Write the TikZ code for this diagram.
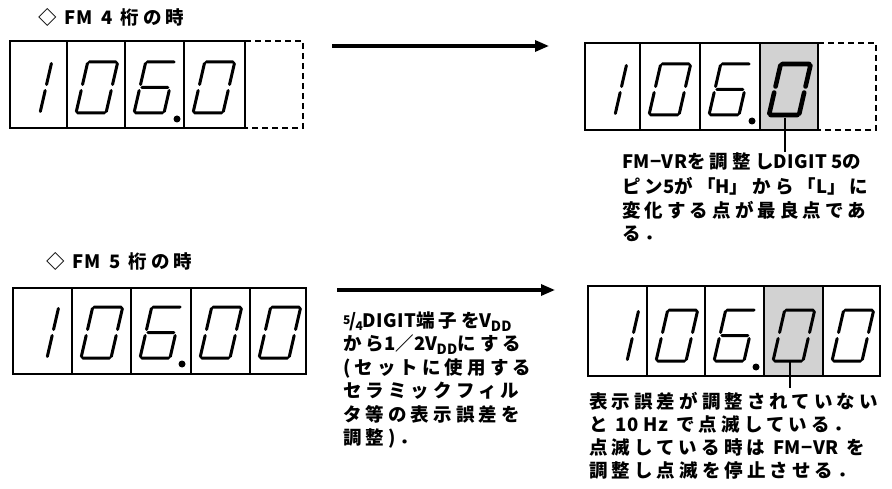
\documentclass[tikz,border=0pt]{standalone}
\usepackage{fontspec}
\usetikzlibrary{arrows.meta}
\newfontfamily\jp[LetterSpace=22]{Noto Sans CJK JP}
\newfontfamily\jpl[LetterSpace=2]{Noto Sans CJK JP}
\newcommand\lat[1]{{\jpl\bfseries #1}}
\tikzset{
  frame/.style={line width=2.4pt},
  divider/.style={line width=1.2pt},
  dashframe/.style={line width=2pt, dash pattern=on 6pt off 4pt},
  seg/.style={line width=3pt, line cap=round},
  hiseg/.style={line width=4.6pt, line cap=round},
  flow/.style={line width=3.2pt, -{Triangle[length=14pt,width=11pt]}},
  pointer/.style={line width=1.4pt},
  lbl/.style={anchor=west, inner sep=0pt, font=\jp\bfseries\fontsize{18.5}{18.5}\selectfont},
  shade/.style={fill=gray!35},
}
% seven segment digits: [style]{x of bottom-left}{y of bottom}
\newcommand\digzero[3][seg]{\begin{scope}[shift={(#2,#3)},yscale=-1,xslant=-.23]
  \draw[#1] (1.5,51)--(28.5,51) (30,49.5)--(30,28.5) (30,22.5)--(30,1.5)
            (1.5,0)--(28.5,0) (0,1.5)--(0,22.5) (0,28.5)--(0,49.5);
  \end{scope}}
\newcommand\digsix[3][seg]{\begin{scope}[shift={(#2,#3)},yscale=-1,xslant=-.23]
  \draw[#1] (1.5,51)--(28.5,51) (0,28.5)--(0,49.5) (2,25.5)--(28,25.5)
            (30,22.5)--(30,1.5) (1.5,0)--(28.5,0) (0,1.5)--(0,22.5);
  \end{scope}}
\newcommand\digone[3][seg]{\begin{scope}[shift={(#2,#3)},yscale=-1,xslant=-.23]
  \draw[#1] (0,1.5)--(0,22.5) (0,28.5)--(0,49.5);
  \end{scope}}
\newcommand\vdd{\lat{V\kern-1pt\raisebox{-4pt}{\fontsize{14}{14}\selectfont DD}}}
\begin{document}
\begin{tikzpicture}[x=1pt,y=-1pt]
\useasboundingbox[fill=white] (0,0) rectangle (892,489);

% ---------- titles
\node[lbl] (t1) at (38,17) {◇ \lat{FM} \lat{4} 桁の時};
\node[lbl] (t2) at (46,261) {◇ \lat{FM} \lat{5} 桁の時};

% ---------- top-left display (4 digits + empty dashed cell)
\draw[frame] (10,41) rectangle (245,128);
\foreach \x in {67,125,184} \draw[divider] (\x,41)--(\x,128);
\draw[dashframe] (245,41)--(303,41)--(303,128)--(245,128);
\digone{40}{113}
\digzero{76}{113}
\digsix{134}{113}
\fill (177,119) circle (3.5);
\digzero{193}{113}

% ---------- top-right display
\fill[shade] (760,43) rectangle (818,130);
\draw[frame] (585,43) rectangle (818,130);
\foreach \x in {640,700,760} \draw[divider] (\x,43)--(\x,130);
\draw[dashframe] (818,43)--(876,43)--(876,130)--(818,130);
\digone{615}{115}
\digzero{649}{115}
\digsix{709}{115}
\fill (752,121) circle (3.5);
\digzero[hiseg]{769}{115}

% ---------- bottom-left display (5 digits)
\draw[frame] (13,288) rectangle (306,374);
\foreach \x in {72,131,191,250} \draw[divider] (\x,288)--(\x,374);
\digone{47}{358}
\digzero{81}{358}
\digsix{140}{358}
\fill (182,364) circle (3.5);
\digzero{200}{358}
\digzero{259}{358}

% ---------- bottom-right display
\fill[shade] (764,286) rectangle (823,376);
\draw[frame] (588,286) rectangle (880,376);
\foreach \x in {647,705,764,823} \draw[divider] (\x,286)--(\x,376);
\digone{627}{361}
\digzero{656}{361}
\digsix{714}{361}
\fill (756,367) circle (3.5);
\digzero{773}{361}
\digzero{832}{361}

% ---------- arrows
\coordinate (a1s) at (332,46);
\coordinate (a1e) at (549,46);
\coordinate (a2s) at (337,290);
\coordinate (a2e) at (555,290);
\draw[flow] (a1s) -- (a1e);
\draw[flow] (a2s) -- (a2e);

% ---------- pointers
\coordinate (p1s) at (785,118);
\coordinate (p1e) at (785,152);
\coordinate (p2s) at (790,362);
\coordinate (p2e) at (790,388);
\draw[pointer] (p1s) -- (p1e);
\draw[pointer] (p2s) -- (p2e);

% ---------- notes top right
\node[lbl] (n1) at (622,162) {\lat{FM−VR}を調整し\lat{DIGIT 5}の};
\node[lbl] (n2) at (622,186) {ピン\lat{5}が「\lat{H}」から「\lat{L}」に};
\node[lbl] (n3) at (622,210) {変化する点が最良点であ};
\node[lbl] (n4) at (622,234) {る．};

% ---------- notes bottom middle
\node[lbl] (m1) at (343,322) {\lat{\raisebox{3pt}{\fontsize{12}{12}\selectfont 5}\kern-1pt/\kern-1pt\raisebox{-3pt}{\fontsize{12}{12}\selectfont 4}DIGIT}端子を\vdd};
\node[lbl] (m2) at (343,345) {から\lat{1}／\lat{2}\vdd にする};
\node[lbl] (m3) at (343,368) {(セットに使用する};
\node[lbl] (m4) at (343,391) {セラミックフィル};
\node[lbl] (m5) at (343,414) {タ等の表示誤差を};
\node[lbl] (m6) at (343,438) {調整)．};

% ---------- notes bottom right
\node[lbl] (r1) at (589,401) {表示誤差が調整されていない};
\node[lbl] (r2) at (589,424) {と \lat{10 Hz} で点滅している．};
\node[lbl] (r3) at (589,447) {点滅している時は \lat{FM−VR} を};
\node[lbl] (r4) at (589,470) {調整し点滅を停止させる．};
\end{tikzpicture}
\end{document}
